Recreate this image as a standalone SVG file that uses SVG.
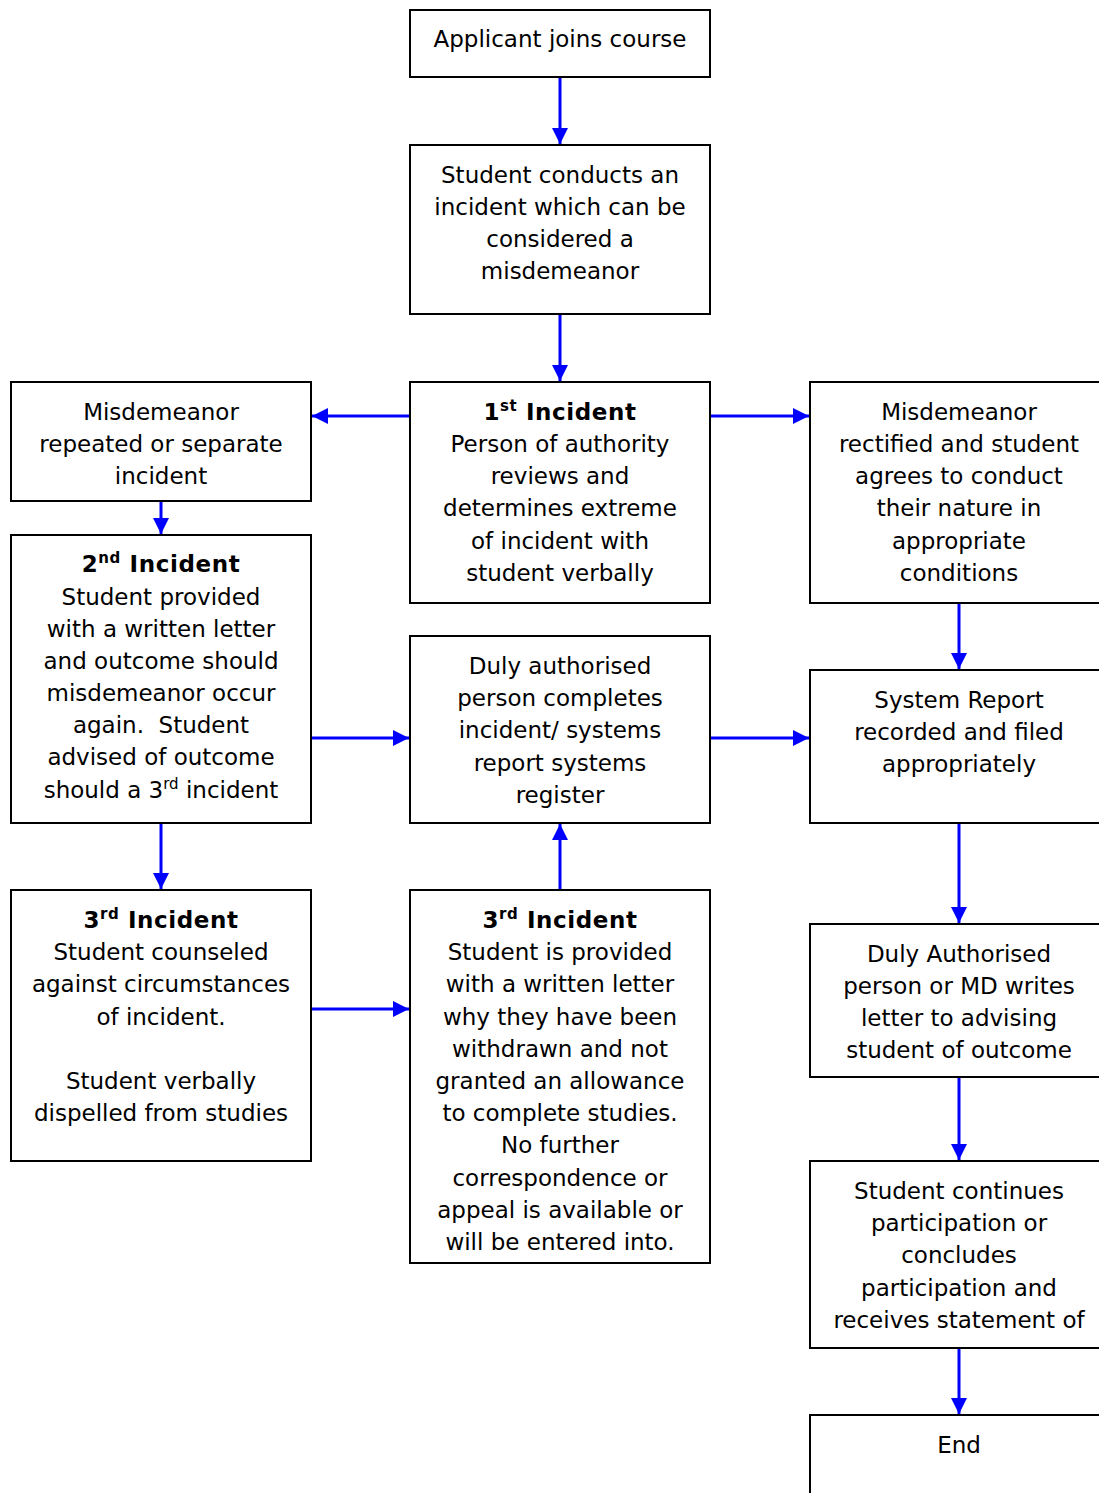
<svg xmlns="http://www.w3.org/2000/svg" width="1099" height="1493" viewBox="0 0 1099 1493">
<style>
.box{fill:#fff;stroke:#000;stroke-width:2}
.t{font-family:"DejaVu Sans","Verdana",sans-serif;font-size:23px;fill:#000;text-anchor:middle}
.b{font-weight:bold;letter-spacing:0.6px}
.sup{font-size:15px}
.c line{stroke:#0000ff;stroke-width:3;marker-end:url(#ah)}
</style>
<defs>
<marker id="ah" markerUnits="userSpaceOnUse" markerWidth="16" markerHeight="16" viewBox="0 0 16 16" refX="16" refY="8" orient="auto">
<path d="M0,0 L16,8 L0,16 z" fill="#0000ff"/>
</marker>
</defs>
<rect width="1099" height="1493" fill="#fff"/>

<g id="n_applicant"><rect class="box" x="410" y="10" width="300" height="67"/>
<text class="t" x="560" y="47">Applicant joins course</text></g>

<g id="n_conducts"><rect class="box" x="410" y="145" width="300" height="169"/>
<text class="t" x="560" y="183">Student conducts an</text>
<text class="t" x="560" y="215">incident which can be</text>
<text class="t" x="560" y="247">considered a</text>
<text class="t" x="560" y="279">misdemeanor</text></g>

<g id="n_first"><rect class="box" x="410" y="382" width="300" height="221"/>
<text class="t b" x="560" y="420">1<tspan class="sup" dy="-9">st</tspan><tspan dy="9"> Incident</tspan></text>
<text class="t" x="560" y="452">Person of authority</text>
<text class="t" x="560" y="484">reviews and</text>
<text class="t" x="560" y="516">determines extreme</text>
<text class="t" x="560" y="549">of incident with</text>
<text class="t" x="560" y="581">student verbally</text></g>

<g id="n_repeated"><rect class="box" x="11" y="382" width="300" height="119"/>
<text class="t" x="161" y="420">Misdemeanor</text>
<text class="t" x="161" y="452">repeated or separate</text>
<text class="t" x="161" y="484">incident</text></g>

<g id="n_rectified"><rect class="box" x="810" y="382" width="300" height="221"/>
<text class="t" x="959" y="420">Misdemeanor</text>
<text class="t" x="959" y="452">rectified and student</text>
<text class="t" x="959" y="484">agrees to conduct</text>
<text class="t" x="959" y="516">their nature in</text>
<text class="t" x="959" y="549">appropriate</text>
<text class="t" x="959" y="581">conditions</text></g>

<g id="n_second"><rect class="box" x="11" y="535" width="300" height="288"/>
<text class="t b" x="161" y="572">2<tspan class="sup" dy="-9">nd</tspan><tspan dy="9"> Incident</tspan></text>
<text class="t" x="161" y="605">Student provided</text>
<text class="t" x="161" y="637">with a written letter</text>
<text class="t" x="161" y="669">and outcome should</text>
<text class="t" x="161" y="701">misdemeanor occur</text>
<text class="t" x="161" y="733" xml:space="preserve">again.  Student</text>
<text class="t" x="161" y="765">advised of outcome</text>
<text class="t" x="161" y="798">should a 3<tspan class="sup" dy="-9">rd</tspan><tspan dy="9"> incident</tspan></text></g>

<g id="n_report"><rect class="box" x="410" y="636" width="300" height="187"/>
<text class="t" x="560" y="674">Duly authorised</text>
<text class="t" x="560" y="706">person completes</text>
<text class="t" x="560" y="738">incident/ systems</text>
<text class="t" x="560" y="771">report systems</text>
<text class="t" x="560" y="803">register</text></g>

<g id="n_system"><rect class="box" x="810" y="670" width="300" height="153"/>
<text class="t" x="959" y="708">System Report</text>
<text class="t" x="959" y="740">recorded and filed</text>
<text class="t" x="959" y="772">appropriately</text></g>

<g id="n_third_left"><rect class="box" x="11" y="890" width="300" height="271"/>
<text class="t b" x="161" y="928">3<tspan class="sup" dy="-9">rd</tspan><tspan dy="9"> Incident</tspan></text>
<text class="t" x="161" y="960">Student counseled</text>
<text class="t" x="161" y="992">against circumstances</text>
<text class="t" x="161" y="1025">of incident.</text>
<text class="t" x="161" y="1089">Student verbally</text>
<text class="t" x="161" y="1121">dispelled from studies</text></g>

<g id="n_third_mid"><rect class="box" x="410" y="890" width="300" height="373"/>
<text class="t b" x="560" y="928">3<tspan class="sup" dy="-9">rd</tspan><tspan dy="9"> Incident</tspan></text>
<text class="t" x="560" y="960">Student is provided</text>
<text class="t" x="560" y="992">with a written letter</text>
<text class="t" x="560" y="1025">why they have been</text>
<text class="t" x="560" y="1057">withdrawn and not</text>
<text class="t" x="560" y="1089">granted an allowance</text>
<text class="t" x="560" y="1121">to complete studies.</text>
<text class="t" x="560" y="1153">No further</text>
<text class="t" x="560" y="1186">correspondence or</text>
<text class="t" x="560" y="1218">appeal is available or</text>
<text class="t" x="560" y="1250">will be entered into.</text></g>

<g id="n_letter"><rect class="box" x="810" y="924" width="300" height="153"/>
<text class="t" x="959" y="962">Duly Authorised</text>
<text class="t" x="959" y="994">person or MD writes</text>
<text class="t" x="959" y="1026">letter to advising</text>
<text class="t" x="959" y="1058">student of outcome</text></g>

<g id="n_continues"><rect class="box" x="810" y="1161" width="300" height="187"/>
<text class="t" x="959" y="1199">Student continues</text>
<text class="t" x="959" y="1231">participation or</text>
<text class="t" x="959" y="1263">concludes</text>
<text class="t" x="959" y="1296">participation and</text>
<text class="t" x="959" y="1328">receives statement of</text></g>

<g id="n_end"><rect class="box" x="810" y="1415" width="300" height="100"/>
<text class="t" x="959" y="1453">End</text></g>

<g id="connectors" class="c">
<line x1="560" y1="78" x2="560" y2="144"/>
<line x1="560" y1="315" x2="560" y2="381"/>
<line x1="409" y1="416" x2="312" y2="416"/>
<line x1="711" y1="416" x2="809" y2="416"/>
<line x1="161" y1="502" x2="161" y2="534"/>
<line x1="312" y1="738" x2="409" y2="738"/>
<line x1="711" y1="738" x2="809" y2="738"/>
<line x1="161" y1="824" x2="161" y2="889"/>
<line x1="312" y1="1009" x2="409" y2="1009"/>
<line x1="560" y1="889" x2="560" y2="824"/>
<line x1="959" y1="604" x2="959" y2="669"/>
<line x1="959" y1="824" x2="959" y2="923"/>
<line x1="959" y1="1078" x2="959" y2="1160"/>
<line x1="959" y1="1349" x2="959" y2="1414"/>
</g>
</svg>
